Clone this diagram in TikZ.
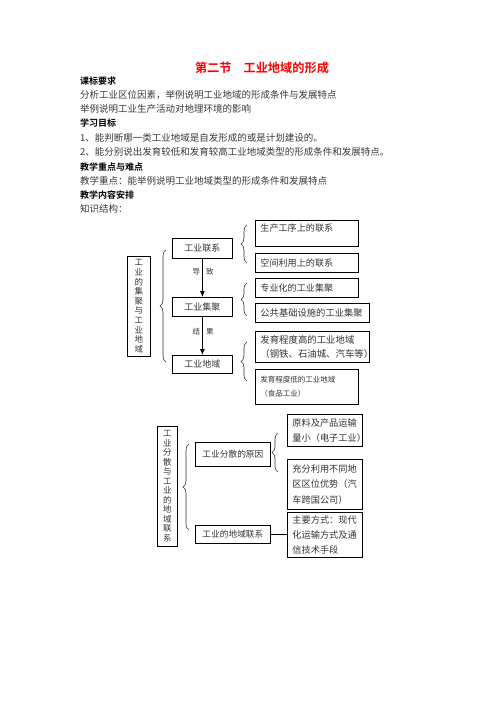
\documentclass[tikz,border=0pt]{standalone}
\usepackage{fontspec}
\setmainfont{Noto Sans CJK SC}[BoldFont={Noto Sans CJK SC Bold}]
\usetikzlibrary{decorations.pathreplacing,arrows.meta}
\newcommand\fsz[2]{\fontsize{#1pt}{#2pt}\selectfont}
\begin{document}
\begin{tikzpicture}[x=1pt,y=-1pt,
  bx/.style={draw, line width=0.8pt, inner ysep=0pt, inner xsep=5pt, anchor=north west, align=left, text=black!80},
  vbx/.style={draw, line width=0.8pt, inner sep=0pt, anchor=north west, align=center, text=black!80, font=\fsz{8.5}{9.6}},
  txt/.style={inner sep=0pt, anchor=base west, text=black!78, font=\fsz{9.5}{11}},
  hd/.style={inner sep=0pt, anchor=base west, text=black, font=\fsz{9}{11}\bfseries},
  lbl/.style={inner sep=0pt, text=black!80, font=\fsz{7.5}{9}},
  br/.style={decorate, decoration={brace, amplitude=6pt}, line width=0.6pt, black!80},
  arr/.style={-{Latex[length=6pt,width=5pt]}, line width=0.8pt},
  conn/.style={line width=0.8pt}]
\path[use as bounding box] (0,0) rectangle (496,702);
% header texts
\node[inner sep=0pt, anchor=base, text=red, font=\fsz{12.2}{14}\bfseries] (title) at (262,72.5) {第二节\hspace{12pt}工业地域的形成};
\node[hd] (h1) at (80,84.5) {课标要求};
\node[txt] (t1) at (80,98.5) {分析工业区位因素，举例说明工业地域的形成条件与发展特点};
\node[txt] (t2) at (80,112.5) {举例说明工业生产活动对地理环境的影响};
\node[hd] (h2) at (80,126.5) {学习目标};
\node[txt] (t3) at (80,141.5) {1、能判断哪一类工业地域是自发形成的或是计划建设的。};
\node[txt] (t4) at (80,155.5) {2、能分别说出发育较低和发育较高工业地域类型的形成条件和发展特点。};
\node[hd] (h3) at (80,170) {教学重点与难点};
\node[txt] (t5) at (80,184.5) {教学重点：能举例说明工业地域类型的形成条件和发展特点};
\node[hd] (h4) at (80,198.5) {教学内容安排};
\node[txt] (t6) at (80,212.5) {知识结构：};
% upper diagram
\node[vbx, minimum width=23pt, minimum height=100pt] (A1) at (127,256) {工\\业\\的\\集\\聚\\与\\工\\业\\地\\域};
\node[bx, align=center, text width=50pt, minimum height=20pt, font=\fsz{9}{11}] (B1) at (172,238) {工业联系};
\node[bx, align=center, text width=50pt, minimum height=19pt, font=\fsz{9}{11}] (B2) at (172,297) {工业集聚};
\node[bx, align=center, text width=50pt, minimum height=18pt, font=\fsz{9}{11}] (B3) at (172,355) {工业地域};
\draw[arr] (B1) -- (B2);
\draw[arr] (B2) -- (B3);
\node[lbl] (l1) at (203,272) {导\hspace{6pt}致};
\node[lbl] (l2) at (203,332) {结\hspace{6pt}果};
\node[bx, text width=93pt, minimum height=26pt, font=\fsz{9.1}{11}] (C1) at (255,220) {生产工序上的联系\\\mbox{}};
\node[bx, text width=93pt, minimum height=19pt, font=\fsz{9.1}{11}] (C2) at (255,253) {空间利用上的联系};
\node[bx, text width=93pt, minimum height=19pt, font=\fsz{9.1}{11}] (C3) at (255,278) {专业化的工业集聚};
\node[bx, text width=104pt, minimum height=19pt, font=\fsz{9.3}{11}] (C4) at (255,303) {公共基础设施的工业集聚};
\node[bx, text width=104pt, minimum height=31pt, font=\fsz{9.4}{14}] (C5) at (255,331) {发育程度高的工业地域\\（钢铁、石油城、汽车等）};
\node[bx, text width=93pt, minimum height=35pt, font=\fsz{7.5}{14}] (C6) at (255,369) {发育程度低的工业地域\\（食品工业）};
\draw[br] (166,362) -- (166,250);
\draw[br] (247,263) -- (247,225);
\draw[br] (247,316) -- (247,283);
\draw[br] (247,381) -- (247,342);
% lower diagram
\node[vbx, minimum width=20pt, minimum height=120pt, font=\fsz{8.5}{9.5}] (D1) at (157,426) {工\\业\\分\\散\\与\\工\\业\\的\\地\\域\\联\\系};
\node[bx, align=center, text width=65pt, minimum height=24pt, font=\fsz{8.7}{11}] (E1) at (195,442) {工业分散的原因};
\node[bx, align=center, text width=65pt, minimum height=18pt, font=\fsz{8.7}{11}] (E2) at (195,525) {工业的地域联系};
\node[bx, text width=65pt, minimum height=32pt, font=\fsz{9.2}{15}] (F1) at (287,414) {原料及产品运输\\量小（电子工业）};
\node[bx, text width=65pt, minimum height=50pt, font=\fsz{9.2}{15.5}] (F2) at (287,459) {充分利用不同地\\区区位优势（汽\\车跨国公司）};
\node[bx, text width=65pt, minimum height=45pt, font=\fsz{9.2}{15}] (F3) at (287,512) {主要方式：现代\\化运输方式及通\\信技术手段};
\draw[br] (189,530) -- (189,444);
\draw[br] (278,472) -- (278,433);
\draw[conn] (E2.east) -- (E2.east -| F3.west);
\end{tikzpicture}
\end{document}
